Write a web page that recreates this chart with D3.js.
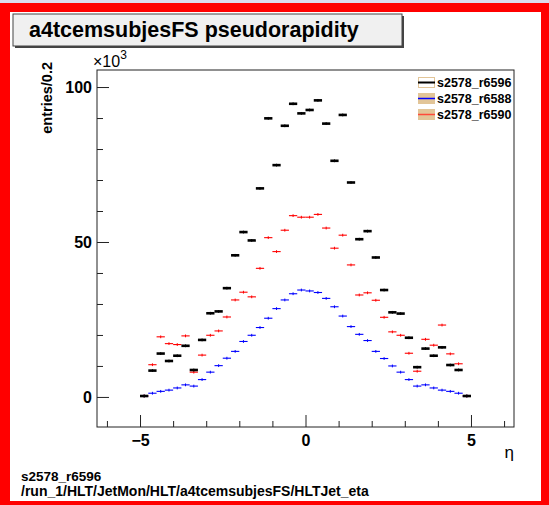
<!DOCTYPE html>
<html>
<head>
<meta charset="utf-8">
<script src="https://cdn.jsdelivr.net/npm/d3@7"></script>
<style>
  html, body { margin: 0; padding: 0; background: #dcdcec; }
  svg { display: block; font-family: "Liberation Sans", Arial, sans-serif; }
</style>
</head>
<body>
<div id="chart"></div>
<script>
// bin layout: 40 bins from -5 to 5
const binLo = -5, binWidth = 0.25, nBins = 40;

// entries per bin, in thousands
const r6596 = [0.3, 8.5, 14.0, 11.6, 13.3, 16.5, 8.7, 18.4, 27.0, 27.6,
               35.1, 45.7, 53.2, 50.5, 67.3, 89.9, 74.8, 87.5, 94.6, 91.5,
               92.6, 95.7, 88.2, 76.2, 91.0, 69.2, 50.9, 53.5, 45.0, 34.5,
               27.3, 26.9, 19.1, 9.6, 15.6, 13.3, 16.0, 10.3, 8.7, 0.3];
const r6588 = [0.3, 1.2, 1.8, 2.2, 2.9, 3.9, 3.5, 5.6, 8.0, 10.1,
               12.5, 14.7, 17.9, 19.9, 22.4, 25.4, 28.5, 31.3, 33.3, 34.5,
               34.2, 33.7, 31.8, 29.1, 26.1, 22.7, 20.2, 18.2, 14.7, 12.4,
               10.0, 8.0, 5.6, 3.5, 3.9, 2.9, 2.2, 1.8, 1.2, 0.3];
const r6590 = [0.3, 10.4, 19.4, 17.2, 16.9, 19.7, 8.0, 13.5, 19.9, 21.3,
               25.8, 31.3, 33.8, 32.3, 41.5, 51.4, 46.9, 53.8, 58.5, 58.0,
               58.0, 58.9, 54.5, 48.0, 52.2, 42.6, 32.9, 33.6, 31.2, 25.7,
               21.0, 19.9, 14.1, 8.3, 18.6, 16.7, 23.2, 13.9, 10.7, 0.3];
const errK = 0.45;

const seriesNames = ["s2578_r6596", "s2578_r6588", "s2578_r6590"];
const xTicks = [-5, 0, 5];
const yTicks = [0, 50, 100];

const W = 549, H = 505;
const frame = {left: 97, right: 514, top: 70, bottom: 427};

const svg = d3.select("#chart").append("svg")
    .attr("width", W).attr("height", H);

// canvas border
svg.append("rect").attr("x", 0).attr("y", 3).attr("width", W).attr("height", H - 3)
    .attr("fill", "#ff0000");
svg.append("rect").attr("x", 10).attr("y", 12).attr("width", 531).attr("height", 489)
    .attr("fill", "#fff");

const x = d3.scaleLinear().domain([-6.3, 6.3]).range([frame.left, frame.right]);
const y = d3.scaleLinear().domain([-9.7, 105.5]).range([frame.bottom, frame.top]);

const centers = d3.range(nBins).map(i => binLo + binWidth * (i + 0.5));

// axes
const axisColor = "#222";
const xAxis = svg.append("g").attr("transform", `translate(0,${frame.bottom})`);
xAxis.call(d3.axisBottom(x).tickValues(d3.range(-6, 7)).tickSize(-6).tickFormat(""));
xAxis.call(g => g.select(".domain").remove());
xAxis.selectAll(".tick line")
    .attr("y2", d => xTicks.includes(d) ? -12 : -6)
    .attr("stroke", axisColor);
const xAxisLab = svg.append("g").attr("transform", `translate(0,${frame.bottom})`);
xAxisLab.call(d3.axisBottom(x).tickValues(xTicks).tickSize(0).tickPadding(4)
    .tickFormat(d => d < 0 ? "\u2212" + Math.abs(d) : d));
xAxisLab.select(".domain").remove();
xAxisLab.selectAll("text").attr("font-size", 16).attr("font-weight", "bold")
    .attr("fill", "#000").attr("font-family", "Liberation Sans, Arial, sans-serif")
    .attr("dy", "0.95em");

const yAxis = svg.append("g").attr("transform", `translate(${frame.left},0)`);
yAxis.call(d3.axisLeft(y).tickValues(d3.range(0, 101, 10)).tickSize(-6).tickFormat(""));
yAxis.select(".domain").remove();
yAxis.selectAll(".tick line")
    .attr("x2", d => yTicks.includes(d) ? 12 : 6)
    .attr("stroke", axisColor);
const yAxisLab = svg.append("g").attr("transform", `translate(${frame.left},0)`);
yAxisLab.call(d3.axisLeft(y).tickValues(yTicks).tickSize(0).tickPadding(5));
yAxisLab.select(".domain").remove();
yAxisLab.selectAll("text").attr("font-size", 16).attr("font-weight", "bold")
    .attr("fill", "#000").attr("font-family", "Liberation Sans, Arial, sans-serif");

// data
function drawHist(vals, color, lw) {
  const g = svg.append("g").attr("stroke", color).attr("fill", "none");
  vals.forEach((v, i) => {
    const c = centers[i];
    g.append("line")
      .attr("x1", x(c - binWidth / 2)).attr("x2", x(c + binWidth / 2))
      .attr("y1", y(v)).attr("y2", y(v))
      .attr("stroke-width", lw);
    g.append("line")
      .attr("x1", x(c)).attr("x2", x(c))
      .attr("y1", y(v - errK)).attr("y2", y(v + errK))
      .attr("stroke-width", 1);
  });
}
drawHist(r6588, "#0000ff", 1.1);
drawHist(r6590, "#ff0000", 1.1);
drawHist(r6596, "#000000", 2.6);

// frame
svg.append("rect")
    .attr("x", frame.left).attr("y", frame.top)
    .attr("width", frame.right - frame.left).attr("height", frame.bottom - frame.top)
    .attr("fill", "none").attr("stroke", axisColor).attr("stroke-width", 1);

// axis titles
svg.append("text")
    .attr("transform", `translate(52,62) rotate(-90)`)
    .attr("text-anchor", "end")
    .attr("font-size", 14.5).attr("font-weight", "bold")
    .text("entries/0.2");
svg.append("text")
    .attr("x", frame.right).attr("y", 458)
    .attr("text-anchor", "end").attr("font-size", 17)
    .text("\u03b7");
const mult = svg.append("text").attr("x", 93).attr("y", 67).attr("font-size", 16);
mult.append("tspan").text("\u00d710");
mult.append("tspan").attr("dy", -8).attr("font-size", 12).text("3");

// title box
svg.append("rect").attr("x", 15).attr("y", 16).attr("width", 389).attr("height", 32)
    .attr("fill", "#444");
svg.append("rect").attr("x", 13).attr("y", 14).attr("width", 389).attr("height", 32)
    .attr("fill", "#f0f0f0").attr("stroke", "#444").attr("stroke-width", 1);
svg.append("text").attr("x", 29).attr("y", 37)
    .attr("font-size", 21.5).attr("font-weight", "bold")
    .text("a4tcemsubjesFS pseudorapidity");

// legend
const legColors = ["#000000", "#0000ff", "#ff4a3a"];
const legend = svg.append("g");
seriesNames.forEach((name, i) => {
  const cy = 82.5 + i * 16;
  legend.append("rect")
    .attr("x", 418.5).attr("y", cy - 5).attr("width", 16).attr("height", 10)
    .attr("fill", i === 0 ? "#fff" : "#e2c598")
    .attr("stroke", "#e2c598").attr("stroke-width", 1);
  legend.append("line")
    .attr("x1", 418).attr("x2", 435).attr("y1", cy).attr("y2", cy)
    .attr("stroke", legColors[i]).attr("stroke-width", i === 0 ? 2 : 1.5);
  legend.append("text")
    .attr("x", 437).attr("y", cy + 4.5)
    .attr("font-size", 12.5).attr("font-weight", "bold")
    .text(name);
});

// footer
svg.append("text").attr("x", 21).attr("y", 481)
    .attr("font-size", 13.5).attr("font-weight", "bold").text("s2578_r6596");
svg.append("text").attr("x", 21).attr("y", 496)
    .attr("font-size", 14).attr("font-weight", "bold")
    .text("/run_1/HLT/JetMon/HLT/a4tcemsubjesFS/HLTJet_eta");
</script>
</body>
</html>
